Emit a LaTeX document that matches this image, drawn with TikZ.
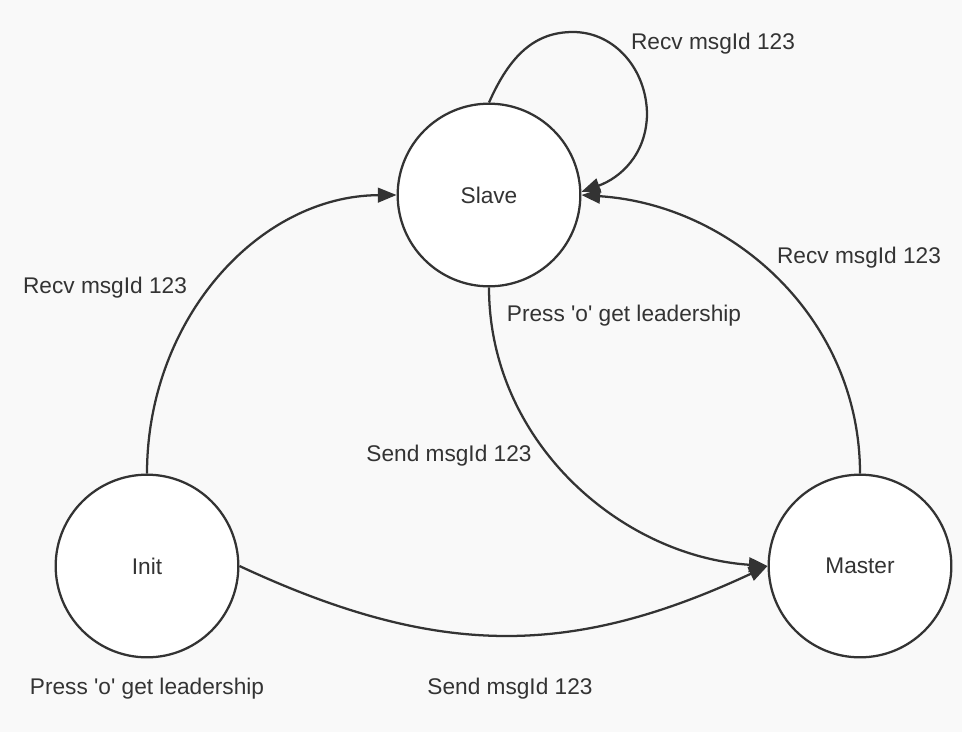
\documentclass[tikz,border=0pt]{standalone}
\usepackage{fontspec}
\setmainfont{Liberation Sans}[Ligatures=TeXOff]
\usetikzlibrary{arrows.meta}
\definecolor{ink}{HTML}{333333}
\definecolor{paper}{HTML}{F9F9F9}

\begin{document}
\begin{tikzpicture}[x=0.75pt,y=-0.75pt,
  state/.style={circle,draw=ink,fill=white,line width=1.7pt,minimum size=137pt,inner sep=0pt,text=ink,font=\fontsize{17}{20}\selectfont},
  lbl/.style={text=ink,inner sep=0pt,font=\fontsize{17}{20}\selectfont},
  trans/.style={draw=ink,line width=1.7pt,-{Triangle[length=14pt,width=11pt]}}]
  \fill[paper] (0,0) rectangle (962,732);
  \node[state] (slave) at (489,195) {Slave};
  \node[state] (init) at (147,566) {Init};
  \node[state] (master) at (860,566) {Master};
  \draw[trans] (init.north) .. controls (147,320) and (258,196) .. (slave.west);
  \draw[trans] (slave.south) .. controls (489,441) and (620,556) .. (master.west);
  \draw[trans] (master.north) .. controls (860,320) and (734,205) .. (slave.east);
  \draw[trans] (init.east) .. controls (437,658) and (570,658) .. (master.west);
  \draw[trans] (slave.north) .. controls (510,55) and (535,32) .. (573,32) .. controls (615,32) and (647,70) .. (647,115) .. controls (646,155) and (620,178) .. (slave.2);
  \node[lbl] (recvloop) at (713,44) {Recv msgId 123};
  \node[lbl] (recvinit) at (105,288) {Recv msgId 123};
  \node[lbl] (recvmaster) at (859,258) {Recv msgId 123};
  \node[lbl] (pressslave) at (624,316) {Press 'o' get leadership};
  \node[lbl] (sendslave) at (449,456) {Send msgId 123};
  \node[lbl] (pressinit) at (147,689) {Press 'o' get leadership};
  \node[lbl] (sendinit) at (510,689) {Send msgId 123};
\end{tikzpicture}
\end{document}
